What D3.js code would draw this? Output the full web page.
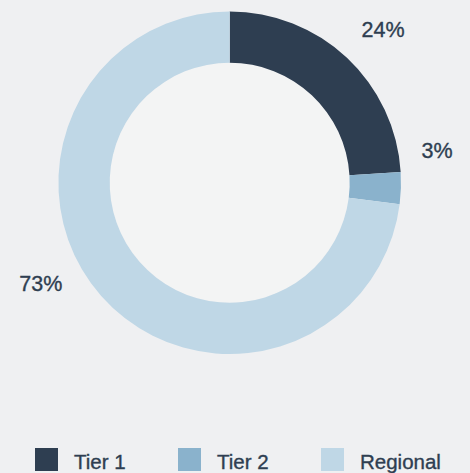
<!DOCTYPE html>
<html>
<head>
<meta charset="utf-8">
<script src="https://cdn.jsdelivr.net/npm/d3@7"></script>
<style>
    html, body { margin: 0; padding: 0; background: #eff0f2; }
    #chart { width: 470px; height: 473px; overflow: hidden; }
    svg { display: block; }
</style>
</head>
<body>
<div id="chart"></div>
<script>
const categories = ['Tier 1', 'Tier 2', 'Regional'];
const shares = [24, 3, 73];
const labels = ['24%', '3%', '73%'];
const colors = ['#2e3e51', '#8ab2cc', '#bfd7e6'];

const width = 470;
const height = 473;
const cx = 229.7;
const cy = 182.7;
const outerR = 171.3;
const innerR = 120;
const textColor = '#2e3e51';
const font = '"Liberation Sans", Arial, Helvetica, sans-serif';

// label placement (angle in degrees, clockwise from 12 o'clock)
const labelAngles = [45, 81, 242];
const labelRadius = [217, 210, 214];

const svg = d3.select('#chart')
    .append('svg')
    .attr('width', width)
    .attr('height', height)
    .attr('viewBox', `0 0 ${width} ${height}`);

svg.append('rect')
    .attr('width', width)
    .attr('height', height)
    .attr('fill', '#eff0f2');

const g = svg.append('g').attr('transform', `translate(${cx},${cy})`);

g.append('circle')
    .attr('r', innerR)
    .attr('fill', '#f3f4f4');

const pie = d3.pie().sort(null).value((d) => d.value);
const arcs = pie(categories.map((c, i) => ({ name: c, value: shares[i], color: colors[i], label: labels[i] })));

const arc = d3.arc().innerRadius(innerR).outerRadius(outerR);

g.selectAll('path.slice')
    .data(arcs)
    .join('path')
    .attr('class', 'slice')
    .attr('d', arc)
    .attr('fill', (d) => d.data.color);

g.selectAll('text.pct')
    .data(arcs)
    .join('text')
    .attr('class', 'pct')
    .attr('x', (d, i) => labelRadius[i] * Math.sin(labelAngles[i] * Math.PI / 180))
    .attr('y', (d, i) => -labelRadius[i] * Math.cos(labelAngles[i] * Math.PI / 180))
    .attr('dy', '0.36em')
    .attr('text-anchor', 'middle')
    .attr('fill', textColor)
    .attr('stroke', textColor)
    .attr('stroke-width', 0.35)
    .attr('font-family', font)
    .attr('font-size', 21.5)
    .text((d) => d.data.label);

// legend
const legendX = d3.scalePoint().domain(categories).range([35, 321]);
const legend = svg.append('g')
    .selectAll('g')
    .data(categories)
    .join('g')
    .attr('transform', (d) => `translate(${legendX(d)},448)`);

legend.append('rect')
    .attr('width', 23)
    .attr('height', 23)
    .attr('fill', (d, i) => colors[i]);

legend.append('text')
    .attr('x', 39)
    .attr('y', 21)
    .attr('fill', textColor)
    .attr('stroke', textColor)
    .attr('stroke-width', 0.35)
    .attr('font-family', font)
    .attr('font-size', 20.5)
    .text((d) => d);
</script>
</body>
</html>
